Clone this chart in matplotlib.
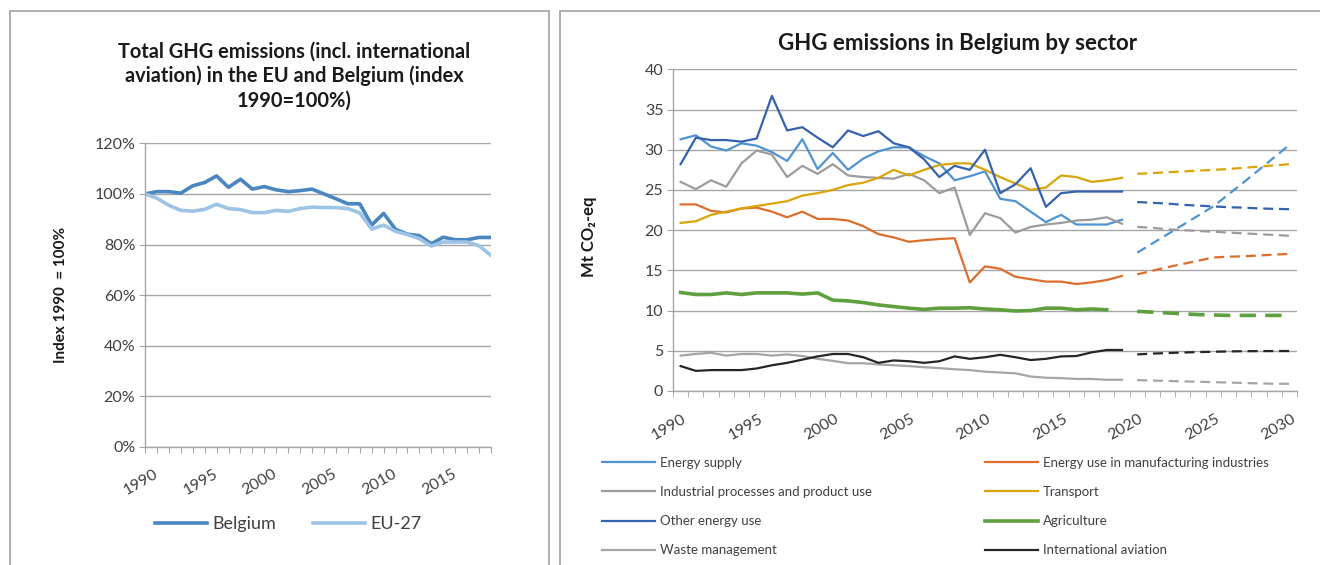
import matplotlib
matplotlib.use("Agg")
import matplotlib.pyplot as plt
import matplotlib.transforms as mtransforms
from matplotlib.patches import Rectangle
import numpy as np

plt.rcParams['font.family'] = ['Lato', 'DejaVu Sans']

# ---- left chart: total GHG index (1990 = 100%)
idx_years = list(range(1990, 2020))
belgium = [100, 100.9, 100.9, 100.3, 103.2, 104.5, 107.1, 102.6, 105.8, 101.9,
           102.9, 101.6, 100.9, 101.3, 101.9, 100.0, 98.1, 96.1, 96.1, 87.7,
           92.3, 86.0, 84.1, 83.5, 80.3, 82.9, 81.9, 81.9, 82.8, 82.8]
eu27 = [100, 98.3, 95.5, 93.5, 93.2, 93.9, 95.9, 94.2, 93.8, 92.6,
        92.6, 93.5, 93.1, 94.2, 94.8, 94.6, 94.6, 94.2, 92.5, 86.1,
        87.7, 85.2, 83.9, 82.3, 79.4, 81.0, 81.0, 81.0, 79.5, 75.7]

# ---- right chart: sectors, Mt CO2-eq
hist_years = list(range(1990, 2020))
proj_years = list(range(2020, 2031))

sectors = ["Energy supply", "Energy use in manufacturing industries",
           "Industrial processes and product use", "Transport",
           "Other energy use", "Agriculture", "Waste management",
           "International aviation"]

energy_supply = [31.3, 31.8, 30.4, 29.9, 30.8, 30.5, 29.7, 28.6, 31.3, 27.6,
                 29.6, 27.5, 28.9, 29.8, 30.3, 30.3, 29.2, 28.3, 26.2, 26.7,
                 27.3, 23.9, 23.6, 22.3, 21.0, 21.9, 20.7, 20.7, 20.7, 21.3]
manufacturing = [23.2, 23.2, 22.4, 22.2, 22.7, 22.8, 22.3, 21.6, 22.3, 21.4,
                 21.4, 21.2, 20.5, 19.5, 19.1, 18.55, 18.75, 18.9, 19.0, 13.5,
                 15.5, 15.2, 14.2, 13.9, 13.6, 13.6, 13.3, 13.5, 13.8, 14.3]
industrial = [26.0, 25.1, 26.2, 25.4, 28.3, 29.9, 29.4, 26.6, 28.0, 27.0,
              28.2, 26.8, 26.6, 26.5, 26.4, 27.0, 26.2, 24.6, 25.3, 19.4,
              22.1, 21.5, 19.7, 20.4, 20.7, 20.9, 21.2, 21.3, 21.6, 20.8]
transport = [20.9, 21.1, 21.9, 22.3, 22.7, 23.0, 23.3, 23.6, 24.3, 24.6,
             25.0, 25.6, 25.9, 26.5, 27.5, 26.8, 27.5, 28.1, 28.3, 28.3,
             27.5, 26.6, 25.8, 25.0, 25.3, 26.8, 26.6, 26.0, 26.2, 26.5]
other_energy = [28.2, 31.5, 31.2, 31.2, 31.0, 31.4, 36.7, 32.4, 32.8, 31.5,
                30.3, 32.4, 31.7, 32.3, 30.8, 30.3, 28.8, 26.6, 28.0, 27.5,
                30.0, 24.6, 25.7, 27.7, 22.9, 24.6, 24.8, 24.8, 24.8, 24.8]
agriculture = [12.25, 12.0, 12.0, 12.2, 12.0, 12.2, 12.2, 12.2, 12.05, 12.2,
               11.3, 11.2, 11.0, 10.7, 10.5, 10.3, 10.15, 10.3, 10.3, 10.35,
               10.2, 10.1, 9.95, 10.0, 10.3, 10.3, 10.1, 10.2, 10.1, np.nan]
waste = [4.4, 4.6, 4.75, 4.4, 4.6, 4.6, 4.4, 4.55, 4.35, 4.0,
         3.75, 3.45, 3.45, 3.3, 3.2, 3.1, 2.95, 2.85, 2.7, 2.6,
         2.4, 2.3, 2.2, 1.8, 1.65, 1.6, 1.5, 1.5, 1.4, 1.4]
aviation = [3.1, 2.5, 2.6, 2.6, 2.6, 2.8, 3.2, 3.5, 3.9, 4.3,
            4.6, 4.6, 4.2, 3.5, 3.8, 3.7, 3.5, 3.7, 4.3, 4.0,
            4.2, 4.5, 4.2, 3.85, 4.0, 4.3, 4.35, 4.8, 5.1, 5.1]

energy_supply_proj = [17.2, 18.35, 19.5, 20.65, 21.8, 22.95, 24.45, 25.95, 27.5, 29.05, 30.6]
manufacturing_proj = [14.5, 14.95, 15.4, 15.8, 16.2, 16.6, 16.7, 16.75, 16.85, 16.95, 17.05]
industrial_proj = [20.4, 20.3, 20.1, 20.0, 19.9, 19.8, 19.7, 19.6, 19.5, 19.4, 19.3]
transport_proj = [27.0, 27.1, 27.2, 27.3, 27.4, 27.5, 27.6, 27.75, 27.9, 28.05, 28.2]
other_energy_proj = [23.5, 23.4, 23.3, 23.15, 23.05, 22.95, 22.85, 22.8, 22.7, 22.65, 22.6]
agriculture_proj = [9.9, 9.8, 9.7, 9.6, 9.5, 9.45, 9.4, 9.4, 9.4, 9.4, 9.4]
waste_proj = [1.35, 1.3, 1.25, 1.2, 1.15, 1.1, 1.05, 1.0, 0.95, 0.9, 0.9]
aviation_proj = [4.55, 4.65, 4.72, 4.78, 4.84, 4.88, 4.92, 4.95, 4.96, 4.97, 4.97]

hist = [energy_supply, manufacturing, industrial, transport,
        other_energy, agriculture, waste, aviation]
proj = [energy_supply_proj, manufacturing_proj, industrial_proj, transport_proj,
        other_energy_proj, agriculture_proj, waste_proj, aviation_proj]
colors = ['#4F93D2', '#DD6E2B', '#9C9C9C', '#D9A50A',
          '#3562AD', '#5FA03E', '#A5A5A5', '#262626']
widths = [1.6, 1.6, 1.6, 1.6, 1.6, 2.6, 1.6, 1.6]

GRID = '#A6A6A6'
TXT = '#404040'

W, H = 1320, 565
fig = plt.figure(figsize=(W / 100, H / 100), dpi=100)

# panel frames
for x0, x1 in [(9.5, 549), (560, 1400)]:
    fig.patches.append(Rectangle((x0 / W, -0.1), (x1 - x0) / W, 1.1 - 11.5 / H,
                                 transform=fig.transFigure, fill=False,
                                 edgecolor='#A0A0A0', linewidth=1.2))


def style_axes(ax):
    for s in ['top', 'right']:
        ax.spines[s].set_visible(False)
    for s in ['left', 'bottom']:
        ax.spines[s].set_color(GRID)
        ax.spines[s].set_linewidth(1.0)
    ax.grid(axis='y', color=GRID, linewidth=1.0)
    ax.set_axisbelow(True)


def shift_labels(ax, dx, dy):
    off = mtransforms.ScaledTranslation(dx / 72, dy / 72, fig.dpi_scale_trans)
    for lbl in ax.get_xticklabels():
        lbl.set_transform(lbl.get_transform() + off)


# ---------------- left chart
axL = fig.add_axes([145 / W, 1 - 447 / H, (491 - 145) / W, (447 - 143.3) / H])
style_axes(axL)
axL.plot(idx_years, np.array(belgium) / 100, color='#4A86C0', lw=2.6, label='Belgium')
axL.plot(idx_years, np.array(eu27) / 100, color='#9DC3E6', lw=2.6, label='EU-27')
axL.set_xlim(1990, 2019)
axL.set_ylim(0, 1.2)
axL.set_yticks(np.arange(0, 1.21, 0.2))
axL.set_yticklabels([f"{v * 100:.0f}%" for v in np.arange(0, 1.21, 0.2)])
axL.set_xticks(idx_years)
axL.set_xticklabels([str(y) if y % 5 == 0 else '' for y in idx_years],
                    rotation=30, ha='right', va='top', rotation_mode='anchor')
axL.tick_params(axis='x', length=4, color=GRID, pad=10, labelsize=11.5, labelcolor=TXT)
axL.tick_params(axis='y', length=4, color=GRID, pad=3, labelsize=11.5, labelcolor=TXT)
shift_labels(axL, 6, 0)
axL.set_ylabel('Index 1990  = 100%', fontsize=11, fontweight='bold', color='#1a1a1a')
axL.yaxis.set_label_coords((67.6 - 145) / (491 - 145), 0.5)
fig.text(294 / W, 1 - 76 / H,
         'Total GHG emissions (incl. international\naviation) in the EU and Belgium (index\n1990=100%)',
         ha='center', va='center', fontsize=14.4, fontweight='bold', color='#1a1a1a',
         linespacing=1.25)
fig.legend(*axL.get_legend_handles_labels(), loc='center left',
           bbox_to_anchor=(155 / W, 1 - 524 / H), ncol=2, frameon=False,
           fontsize=13, handlelength=2.9, handletextpad=0.3, columnspacing=2.0,
           borderpad=0, borderaxespad=0, labelcolor=TXT)

# ---------------- right chart
axR = fig.add_axes([673 / W, 1 - 391 / H, (1297 - 673) / W, (391 - 69.3) / H])
style_axes(axR)
lines = []
for name, h, p, c, lw in zip(sectors, hist, proj, colors, widths):
    ln, = axR.plot(hist_years, h, color=c, lw=lw, label=name)
    axR.plot(proj_years, p, color=c, lw=lw, linestyle=(0, (4.5, 2.6)))
    lines.append(ln)
axR.set_xlim(1989.5, 2030.5)
axR.set_ylim(0, 40)
axR.set_yticks(range(0, 41, 5))
lab_years = list(range(1990, 2031, 5))
axR.set_xticks(lab_years)
axR.set_xticklabels([str(y) for y in lab_years], rotation=30, ha='right', va='top',
                    rotation_mode='anchor')
axR.set_xticks(np.arange(1989.5, 2031, 1), minor=True)
axR.tick_params(axis='x', which='major', length=0, pad=15, labelsize=11.5, labelcolor=TXT)
axR.tick_params(axis='x', which='minor', length=4, color=GRID)
axR.tick_params(axis='y', length=4, color=GRID, pad=3, labelsize=11.5, labelcolor=TXT)
shift_labels(axR, 1, 0)
axR.set_ylabel('Mt CO\u2082-eq', fontsize=12, fontweight='bold', color='#1a1a1a')
axR.yaxis.set_label_coords((597 - 673) / (1297 - 673), 1 - (237 - 69.3) / (391 - 69.3))
fig.text(958 / W, 1 - 44 / H, 'GHG emissions in Belgium by sector', ha='center',
         va='center', fontsize=16, fontweight='bold', color='#1a1a1a')

for col, x in [(0, 602), (1, 985)]:
    hs = lines[col::2]
    fig.legend(hs, [h.get_label() for h in hs], loc='center left',
               bbox_to_anchor=(x / W, 1 - 506.5 / H), frameon=False, fontsize=9.5,
               handlelength=4.0, handletextpad=0.4, labelspacing=1.31,
               borderpad=0, borderaxespad=0, labelcolor=TXT)

fig.savefig('out.png', dpi=100)
